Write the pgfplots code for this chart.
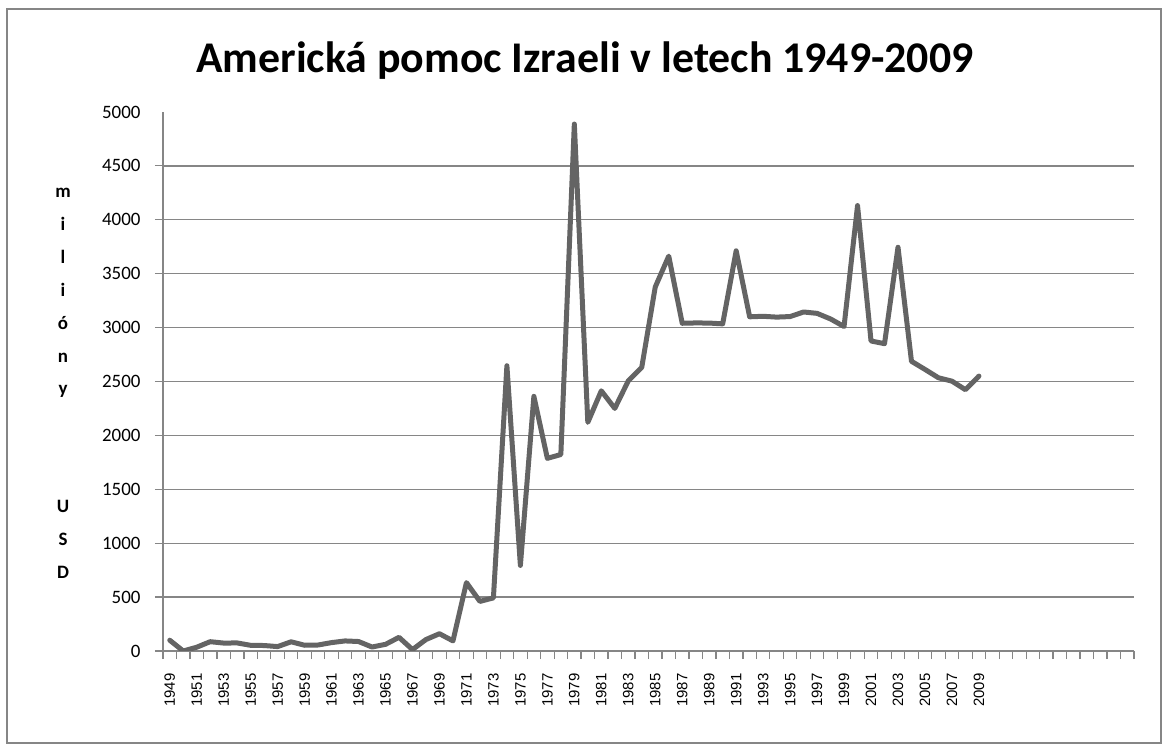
\documentclass[border=0pt]{standalone}
\usepackage{pgfplots}
\pgfplotsset{compat=1.18}
\usepackage{fontspec}
\setmainfont{Carlito}
\newfontfamily\arialfont{Liberation Sans}
\definecolor{lineg}{RGB}{100,100,100}
\definecolor{gridg}{RGB}{134,134,134}
\pgfplotstableread{
idx val
0 100
1 0
2 35
3 86.4
4 73.6
5 74.7
6 52.7
7 50.8
8 40.9
9 85.4
10 53.3
11 55.7
12 77.9
13 93.4
14 87.9
15 37.0
16 61.7
17 126.8
18 13.1
19 106.5
20 160.3
21 93.6
22 634.3
23 460.0
24 492.8
25 2646.3
26 794.0
27 2362.3
28 1787.0
29 1822.6
30 4888.1
31 2121.0
32 2413.4
33 2250.5
34 2505.6
35 2631.6
36 3376.7
37 3663.1
38 3040.2
39 3043.2
40 3042.1
41 3034.6
42 3712.3
43 3100.0
44 3104.9
45 3097.2
46 3102.4
47 3144.8
48 3132.1
49 3080.0
50 3010.0
51 4131.9
52 2876.1
53 2850.7
54 3745.2
55 2687.3
56 2612.2
57 2534.5
58 2503.2
59 2423.9
60 2550.0
}\aid
\begin{document}
\begin{tikzpicture}
\useasboundingbox (0bp,0bp) rectangle (1165bp,745bp);
\draw[gridg, line width=1.5bp] (7bp,2bp) rectangle (1161bp,736bp);
\node[font=\fontsize{44}{50}\selectfont\bfseries, anchor=center] at (585bp,684bp) {Americká pomoc Izraeli v letech 1949-2009};
\begin{axis}[
  at={(163bp,94bp)}, anchor=south west,
  scale only axis, width=971bp, height=539bp,
  xmin=-0.5, xmax=71.5, ymin=0, ymax=5000,
  axis x line*=bottom, axis y line*=left,
  axis line style={-, gridg, line width=1.5bp},
  tick align=outside,
  xtick={-0.5,0.5,...,71.5},
  xticklabel={\mbox{}},
  extra x ticks={0,2,...,60},
  extra x tick labels={1949,1951,1953,1955,1957,1959,1961,1963,1965,1967,1969,1971,1973,1975,1977,1979,1981,1983,1985,1987,1989,1991,1993,1995,1997,1999,2001,2003,2005,2007,2009},
  extra x tick style={major tick length=0bp},
  xticklabel style={rotate=90, anchor=east, font=\arialfont\fontsize{15}{17}\selectfont},
  xticklabel shift=19bp,
  ytick={0,500,1000,1500,2000,2500,3000,3500,4000,4500},
  yticklabels={0,500,1000,1500,2000,2500,3000,3500,4000,4500},
  extra y ticks={5000}, extra y tick labels={5000},
  extra y tick style={grid=none, major tick length=0bp, yticklabel shift=19bp},
  major tick length=8bp,
  major tick style={gridg, line width=1.2bp},
  yticklabel style={font=\fontsize{19}{22}\selectfont},
  yticklabel shift=11bp,
  ymajorgrids,
  major grid style={gridg, line width=1.3bp},
  ylabel={\fontsize{19}{33}\selectfont\bfseries\begin{tabular}{@{}c@{}}m\\i\\l\\i\\ó\\n\\y\\[85bp]U\\S\\D\end{tabular}},
  y label style={rotate=-90, at={(rel axis cs:-0.103,0.50)}, anchor=center},
]
\addplot[lineg, line width=5bp, line join=round, line cap=round] table[x=idx, y=val] {\aid};
\end{axis}
\end{tikzpicture}
\end{document}
